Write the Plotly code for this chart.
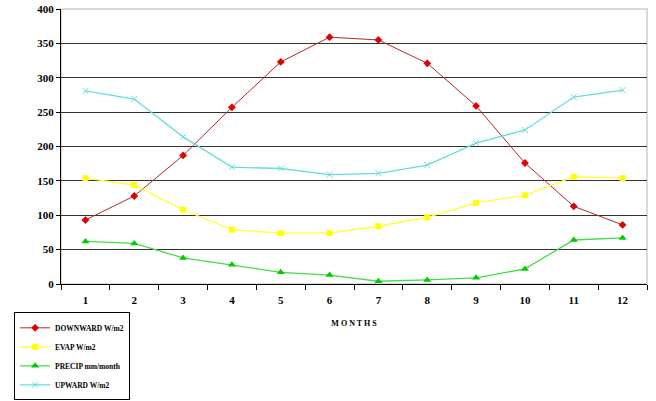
import plotly.graph_objects as go

months = ["1", "2", "3", "4", "5", "6", "7", "8", "9", "10", "11", "12"]
downward = [93, 128, 187, 257, 323, 359, 355, 321, 259, 176, 113, 86]
evap = [154, 144, 108, 79, 74, 74, 84, 97, 118, 129, 156, 154]
precip = [62, 59, 38, 28, 17, 13, 4, 6, 9, 22, 64, 67]
upward = [281, 269, 214, 170, 168, 159, 161, 173, 205, 224, 272, 282]
y_ticks = [0, 50, 100, 150, 200, 250, 300, 350, 400]
grid_vals = [50, 100, 150, 200, 250, 300, 350]

FONT = "Liberation Serif"

fig = go.Figure()
fig.add_trace(go.Scatter(x=months, y=downward, name="DOWNWARD W/m2", mode="lines+markers",
                         line=dict(color="#b22a2a", width=1),
                         marker=dict(symbol="diamond", color="#e00000", size=6)))
fig.add_trace(go.Scatter(x=months, y=evap, name="EVAP W/m2", mode="lines+markers",
                         line=dict(color="#ffff33", width=1.3),
                         marker=dict(symbol="square", color="#ffff00", size=6)))
fig.add_trace(go.Scatter(x=months, y=precip, name="PRECIP mm/month", mode="lines+markers",
                         line=dict(color="#44dd44", width=1.3),
                         marker=dict(symbol="triangle-up", color="#00cc00", size=7)))
fig.add_trace(go.Scatter(x=months, y=upward, name="UPWARD W/m2", mode="lines+markers",
                         line=dict(color="#66dddd", width=1.3),
                         marker=dict(symbol="x-thin", color="#66dddd", size=6,
                                     line=dict(color="#66dddd", width=1))))

fig.update_layout(
    width=656, height=401,
    margin=dict(l=61, r=9, t=9, b=117, autoexpand=False),
    paper_bgcolor="white", plot_bgcolor="white",
    font=dict(family=FONT, color="black"),
    showlegend=True,
    legend=dict(x=-0.08, y=-0.103, xanchor="left", yanchor="top",
                bordercolor="black", borderwidth=1, bgcolor="white",
                font=dict(size=7.5, family=FONT, weight="bold"), tracegroupgap=0,
                itemwidth=30),
    xaxis=dict(type="category", range=[-0.5, 11.5], showgrid=False,
               showline=True, linecolor="black", linewidth=1,
               ticks="outside", tickson="boundaries", ticklen=5, tickcolor="black",
               tickfont=dict(size=11, family=FONT, weight="bold"), ticklabelstandoff=6,
               title=dict(text="M O N T H S", font=dict(size=8, family=FONT, weight="bold"), standoff=15)),
    yaxis=dict(range=[0, 400], tickvals=y_ticks, showgrid=False,
               showline=True, linecolor="black", linewidth=1,
               ticks="outside", ticklen=4, tickcolor="black",
               tickfont=dict(size=11, family=FONT, weight="bold"),
               minor=dict(tickvals=grid_vals, showgrid=True, gridcolor="#333333", gridwidth=1, ticks="")),
)
fig.add_shape(type="rect", xref="paper", yref="paper", x0=0, x1=1, y0=0, y1=1,
              line=dict(color="#d9d9d9", width=2), layer="below")
fig.write_html("out.html", config={"displayModeBar": False},
               post_script="document.body.style.margin='0';document.body.style.overflow='hidden';")
